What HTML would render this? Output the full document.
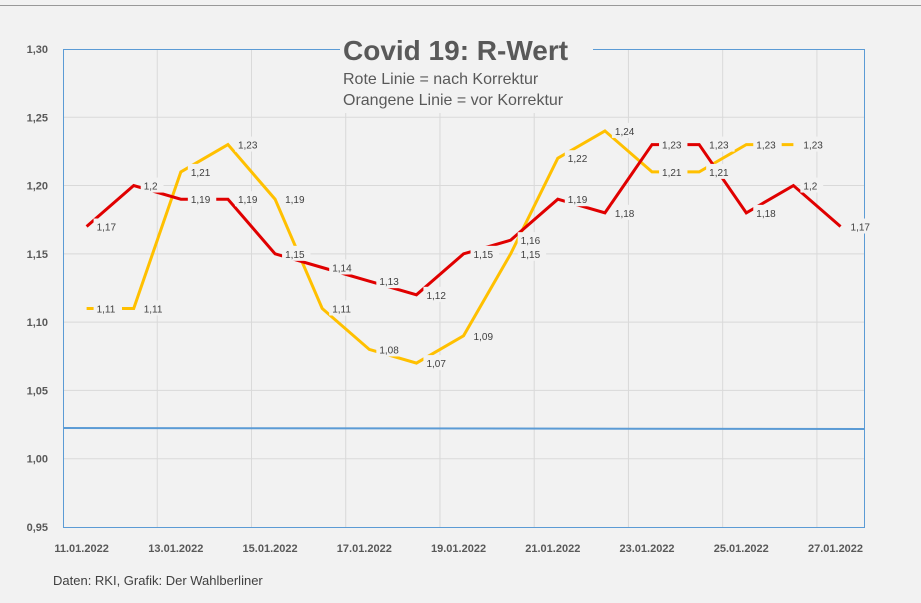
<!DOCTYPE html>
<html><head><meta charset="utf-8"><style>
body{margin:0;background:#fff}
svg{display:block;font-family:"Liberation Sans",sans-serif}
</style></head><body>
<svg width="921" height="603" viewBox="0 0 921 603">
<rect x="0" y="0" width="921" height="603" fill="#f2f2f2"/>
<line x1="0" y1="5.5" x2="921" y2="5.5" stroke="#999" stroke-width="1"/>
<g id="grid" stroke="#d9d9d9" stroke-width="1"></g>
<rect x="63.5" y="49.5" width="801" height="478" fill="none" stroke="#5b9bd5" stroke-width="1"/>
<line x1="63" y1="428" x2="864" y2="429" stroke="#5b9bd5" stroke-width="2"/>
<g id="ylab" font-size="11" font-weight="bold" fill="#595959" text-anchor="end"></g>
<g id="xlab" font-size="11" font-weight="bold" fill="#595959" text-anchor="middle"></g>
<rect x="340" y="33" width="253" height="80" fill="#f2f2f2"/>
<text x="343" y="60" font-size="28" font-weight="bold" fill="#595959">Covid 19: R-Wert</text>
<text x="343" y="84" font-size="16" fill="#595959">Rote Linie = nach Korrektur</text>
<text x="343" y="105" font-size="16" fill="#595959">Orangene Linie = vor Korrektur</text>
<g id="lines"></g>
<g id="labels" font-size="10" fill="#404040"></g>
<text x="53" y="585" font-size="13" fill="#404040">Daten: RKI, Grafik: Der Wahlberliner</text>
</svg>
<script>
const ns="http://www.w3.org/2000/svg";
function el(p,t,a,txt){const e=document.createElementNS(ns,t);for(const k in a)e.setAttribute(k,a[k]);if(txt)e.textContent=txt;document.getElementById(p).appendChild(e);return e;}
const Y=v=>527-(v-0.95)/0.05*68.29;
const X=i=>86.6+47.12*i;
for(let k=1;k<7;k++){const y=Y(0.95+k*0.05);el("grid","line",{x1:63,x2:864,y1:y,y2:y});}
for(let k=1;k<9;k++){const x=63+94.24*k;el("grid","line",{x1:x,x2:x,y1:49,y2:527});}
for(let k=0;k<=7;k++){const v=0.95+k*0.05;el("ylab","text",{x:48,y:Y(v)+4},v.toFixed(2).replace(".",","));}
for(let i=0;i<17;i+=2){el("xlab","text",{x:X(i)-5,y:552},(11+i)+".01.2022");}
const red=[1.17,1.2,1.19,1.19,1.15,1.14,1.13,1.12,1.15,1.16,1.19,1.18,1.23,1.23,1.18,1.2,1.17];
const org=[1.11,1.11,1.21,1.23,1.19,1.11,1.08,1.07,1.09,1.15,1.22,1.24,1.21,1.21,1.23,1.23];
function line(d,c){el("lines","polyline",{points:d.map((v,i)=>X(i)+","+Y(v)).join(" "),fill:"none",stroke:c,"stroke-width":3,"stroke-linejoin":"miter"});}
line(org,"#ffc000");line(red,"#e00000");
function labs(d){d.forEach((v,i)=>{const t=String(v).replace(".",",");const w=t.length*5.6+6;const x=X(i)+7,y=Y(v);
el("labels","rect",{x:x,y:y-8,width:w,height:15,fill:"#f2f2f2"});
el("labels","text",{x:x+3,y:y+4},t);});}
labs(org);labs(red);
</script>
</body></html>
